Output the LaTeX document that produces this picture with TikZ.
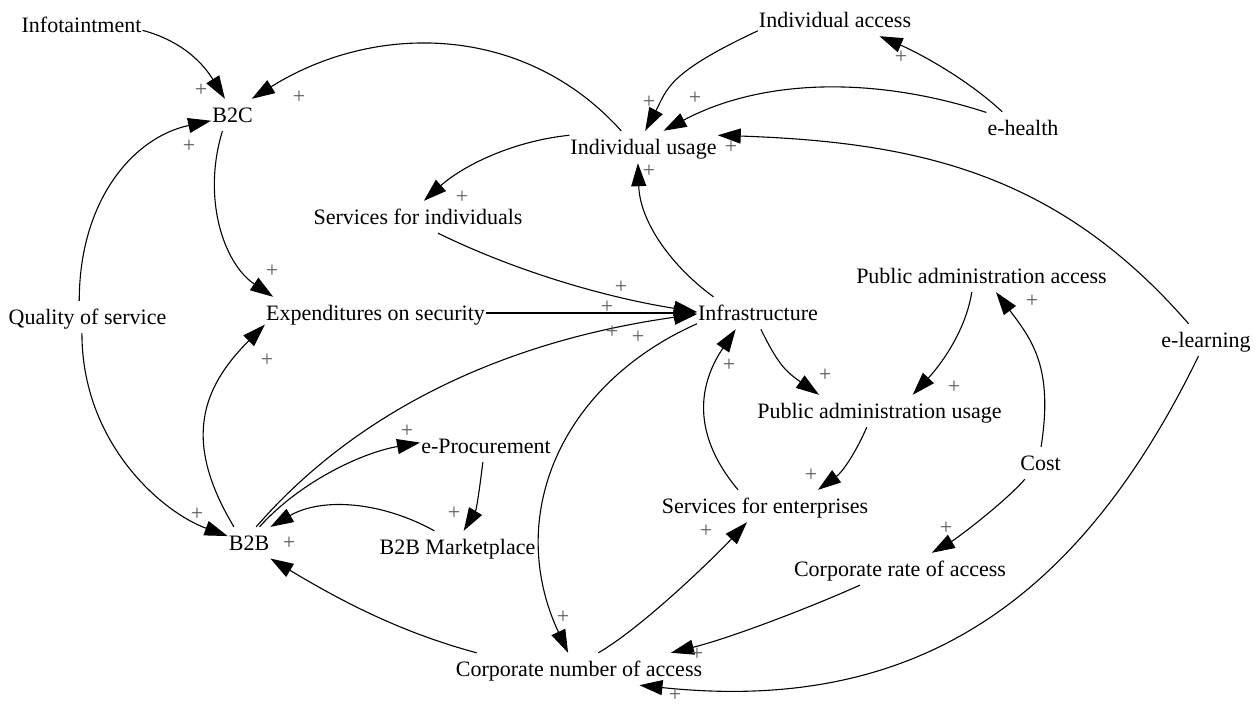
\documentclass[tikz,border=0pt]{standalone}
\usepackage{fontspec}
\setmainfont{Liberation Serif}
\usetikzlibrary{arrows.meta}
\begin{document}
\begin{tikzpicture}[x=1pt,y=1pt,
  var/.style={inner xsep=1pt, inner ysep=4.3pt, text height=19pt, text depth=4.4pt, font=\fontsize{22}{26}\selectfont},
  pl/.style={inner sep=0pt, text=black!65, font=\fontsize{22}{26}\selectfont},
  arr/.style={line width=1.1pt, -{Triangle[length=23pt,width=15pt]}},
  lnk/.style={line width=1.1pt}]
\useasboundingbox (0,0) rectangle (1260,-704);
% variables
\node[var] (info) at (81.5,-25) {Infotaintment};
\node[var] (b2c)  at (232.5,-115) {B2C};
\node[var] (ia)   at (835,-20) {Individual access};
\node[var] (iu)   at (643.5,-147) {Individual usage};
\node[var] (eh)   at (1023,-128) {e-health};
\node[var] (si)   at (418,-217) {Services for individuals};
\node[var] (qos)  at (87.5,-317) {Quality of service};
\node[var] (exp)  at (375.5,-313) {Expenditures on security};
\node[var] (infra) at (758,-313) {Infrastructure};
\node[var] (paa)  at (981.5,-276) {Public administration access};
\node[var] (el)   at (1206,-340) {e-learning};
\node[var] (pau)  at (879.5,-411) {Public administration usage};
\node[var] (cost) at (1040.5,-463) {Cost};
\node[var] (ep)   at (486,-446) {e-Procurement};
\node[var] (se)   at (765,-506) {Services for enterprises};
\node[var] (b2b)  at (249,-543) {B2B};
\node[var] (b2bm) at (457.5,-547) {B2B Marketplace};
\node[var] (cra)  at (900,-569) {Corporate rate of access};
\node[var] (cna)  at (579,-669) {Corporate number of access};
% links
\draw[arr] (info.-5) to[out=-15,in=122,out distance=50,in distance=30] (b2c.115);
\draw[arr] (iu.144) to[out=132,in=32,out distance=145,in distance=145] (b2c.40);
\draw[arr] (qos.117) to[out=90,in=192,out distance=100,in distance=80] (b2c.195);
\draw[arr] (qos.251) to[out=270,in=160,out distance=110,in distance=70] (b2b.162);
\draw[arr] (b2c.238) to[out=253,in=146,out distance=70,in distance=60] (exp.171);
\draw[arr] (b2b.133) to[out=121,in=225,out distance=100,in distance=90] (exp.186);
\draw[arr] (iu.171) to[out=186,in=42,out distance=60,in distance=50] (si.70);
\draw[arr] (si.321) to[out=-26,in=171,out distance=90,in distance=90] (infra.179);
\draw[arr] (exp.east) -- (infra.west);
\draw[arr] (b2b.66) to[out=49,in=188,out distance=150,in distance=200] (infra.181);
\draw[arr] (infra.190) to[out=204,in=115,out distance=150,in distance=150] (cna.124);
\draw[arr] (infra.160) to[out=144,in=272,out distance=50,in distance=60] (iu.251);
\draw[arr] (ia.188) to[out=205,in=62,out distance=100,in distance=47] (iu.84);
\draw[arr] (eh.157) to[out=162,in=28,out distance=120,in distance=110] (iu.39);
\draw[arr] (eh.142) to[out=137,in=-23,out distance=50,in distance=40] (ia.340);
\draw[arr] (el.137) to[out=131,in=-2,out distance=200,in distance=200] (iu.9);
\draw[arr] (el.245) to[out=244,in=-6,out distance=270,in distance=280] (cna.-15);
\draw[arr] (infra.280) to[out=-64,in=145,out distance=40,in distance=40] (pau.165);
\draw[arr] (paa.239) to[out=261,in=47,out distance=40,in distance=40] (pau.26);
\draw[arr] (cost.88) to[out=81,in=307,out distance=80,in distance=60] (paa.312);
\draw[arr] (pau.232) to[out=246,in=36,out distance=30,in distance=30] (se.17);
\draw[arr] (se.149) to[out=130,in=236,out distance=70,in distance=70] (infra.216);
\draw[arr] (cost.226) to[out=229,in=30,out distance=30,in distance=30] (cra.27);
\draw[arr] (cra.202) to[out=204,in=14,out distance=60,in distance=60] (cna.10);
\draw[arr] (cna.40) to[out=30,in=227,out distance=50,in distance=50] (se.222);
\draw[arr] (cna.171) to[out=165,in=-31,out distance=80,in distance=80] (b2b.324);
\draw[arr] (b2b.57) to[out=48,in=190,out distance=60,in distance=60] (ep.177);
\draw[arr] (ep.259) to[out=263,in=59,out distance=25,in distance=25] (b2bm.69);
\draw[arr] (b2bm.145) to[out=151,in=30,out distance=60,in distance=60] (b2b.37);
% polarity labels
\node[pl] (p1) at (201,-90) {+};
\node[pl] (p2) at (299,-97) {+};
\node[pl] (p3) at (189,-146) {+};
\node[pl] (p4) at (649,-102) {+};
\node[pl] (p5) at (695,-98) {+};
\node[pl] (p6) at (731,-147) {+};
\node[pl] (p7) at (649,-171) {+};
\node[pl] (p8) at (901,-57) {+};
\node[pl] (p9) at (462,-197) {+};
\node[pl] (p10) at (272,-271) {+};
\node[pl] (p11) at (267,-360) {+};
\node[pl] (p12) at (621,-287) {+};
\node[pl] (p13) at (607,-307) {+};
\node[pl] (p14) at (612,-332) {+};
\node[pl] (p15) at (638,-337) {+};
\node[pl] (p16) at (729,-365) {+};
\node[pl] (p17) at (825,-375) {+};
\node[pl] (p18) at (954,-387) {+};
\node[pl] (p19) at (1032,-301) {+};
\node[pl] (p20) at (811,-475) {+};
\node[pl] (p21) at (407,-431) {+};
\node[pl] (p22) at (454,-513) {+};
\node[pl] (p23) at (197,-514) {+};
\node[pl] (p24) at (289,-543) {+};
\node[pl] (p25) at (706,-531) {+};
\node[pl] (p26) at (946,-528) {+};
\node[pl] (p27) at (563,-617) {+};
\node[pl] (p28) at (697,-654) {+};
\node[pl] (p29) at (675,-695) {+};
\end{tikzpicture}
\end{document}
